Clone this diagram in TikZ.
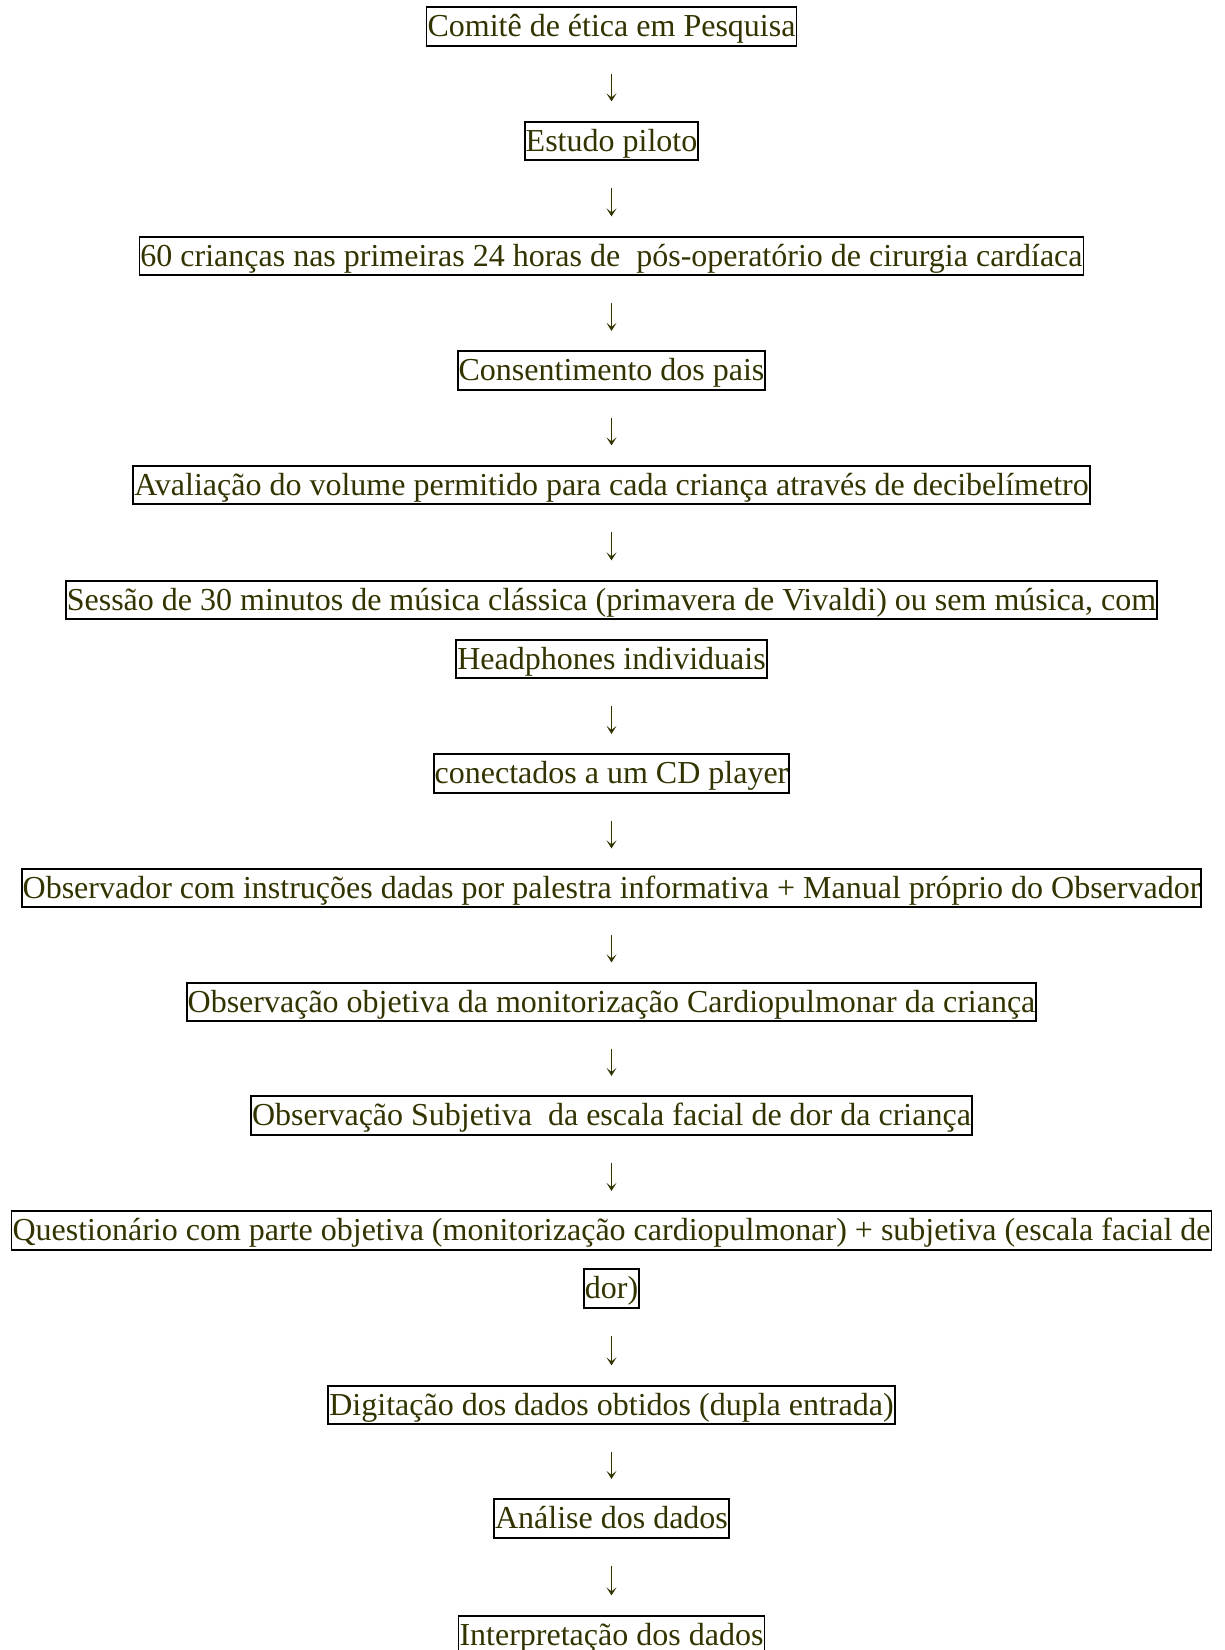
\documentclass[tikz,border=0pt]{standalone}
\usepackage{fontspec}
\setmainfont{Liberation Serif}
\usetikzlibrary{arrows.meta}
\definecolor{olivetxt}{RGB}{51,51,0}
\tikzset{
	etapa/.style={draw=black, line width=0.9pt, text=olivetxt, inner xsep=0.5pt, inner ysep=0pt,
		text height=14.7pt, text depth=4.5pt, font=\fontsize{16}{19}\selectfont},
	seta/.style={draw=olivetxt, line width=0.7pt, -{Stealth[length=4pt,width=5pt,inset=2pt]},
		shorten <=13.5pt, shorten >=9.75pt}
}
\begin{document}
\begin{tikzpicture}[x=0.5pt,y=-0.5pt]
				\useasboundingbox (0,0) rectangle (1225,1650);
				
				\node[etapa] (comite) at (611.5,26.5) {Comitê de ética em Pesquisa};
				\node[etapa] (piloto) at (611.5,141) {Estudo piloto};
				\node[etapa] (criancas) at (611.5,256) {60 crianças nas primeiras 24 horas de\ \ pós-operatório de cirurgia cardíaca};
				\node[etapa] (pais) at (611.5,370.5) {Consentimento dos pais};
				\node[etapa] (volume) at (611.5,485) {Avaliação do volume permitido para cada criança através de decibelímetro};
				\node[etapa] (sessao) at (611.5,600) {Sessão de 30 minutos de música clássica (primavera de Vivaldi) ou sem música, com};
				\node[etapa] (headphones) at (611.5,659) {Headphones individuais};
				\node[etapa] (cd) at (611.5,773.5) {conectados a um CD player};
				\node[etapa] (observador) at (611.5,888) {Observador com instruções dadas por palestra informativa + Manual próprio do Observador};
				\node[etapa] (objetiva) at (611.5,1002) {Observação objetiva da monitorização Cardiopulmonar da criança};
				\node[etapa] (subjetiva) at (611.5,1115.5) {Observação Subjetiva\ \ da escala facial de dor da criança};
				\node[etapa] (questionario) at (611.5,1230.5) {Questionário com parte objetiva (monitorização cardiopulmonar) + subjetiva (escala facial de};
				\node[etapa] (dor) at (611.5,1288.5) {dor)};
				\node[etapa] (digitacao) at (611.5,1405) {Digitação dos dados obtidos (dupla entrada)};
				\node[etapa] (analise) at (611.5,1518.5) {Análise dos dados};
				\node[etapa] (interpretacao) at (611.5,1635) {Interpretação dos dados};
				
				\draw[seta] (comite) -- (piloto);
				\draw[seta] (piloto) -- (criancas);
				\draw[seta] (criancas) -- (pais);
				\draw[seta] (pais) -- (volume);
				\draw[seta] (volume) -- (sessao);
				\draw[seta] (headphones) -- (cd);
				\draw[seta] (cd) -- (observador);
				\draw[seta] (observador) -- (objetiva);
				\draw[seta] (objetiva) -- (subjetiva);
				\draw[seta] (subjetiva) -- (questionario);
				\draw[seta] (dor) -- (digitacao);
				\draw[seta] (digitacao) -- (analise);
				\draw[seta] (analise) -- (interpretacao);
\end{tikzpicture}
\end{document}
